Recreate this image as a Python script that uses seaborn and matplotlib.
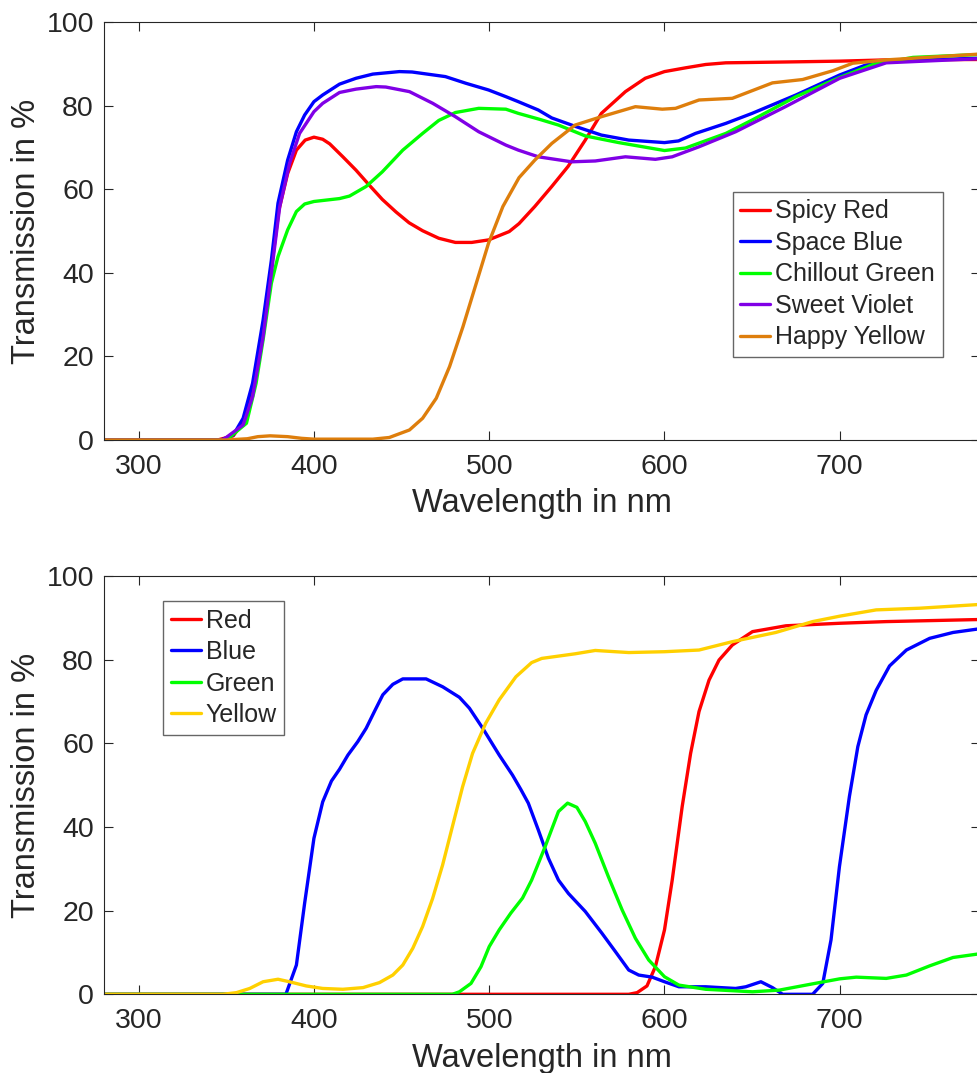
import numpy as np
import pandas as pd
import matplotlib
matplotlib.use("Agg")
import matplotlib.pyplot as plt
import seaborn as sns

# ---------------- data: top panel ----------------
spicy_red_x = [280, 345, 354, 360, 365, 371, 376, 380, 385, 390, 395, 400, 405, 409, 416.5, 424, 431.6, 439,
               446.8, 454.3, 462, 471.2, 480.7, 490, 499.6, 511.4, 517, 526, 535.7, 545, 554.8, 564, 577.7,
               589, 600, 612, 623.5, 635, 669, 700, 726.5, 780]
spicy_red_y = [0, 0, 1.0, 4.5, 12, 27, 42, 55, 63.8, 69.4, 71.8, 72.5, 72, 70.9, 67.8, 64.6, 61, 57.6,
               54.6, 52, 50.1, 48.3, 47.3, 47.3, 47.9, 49.9, 51.8, 55.9, 60.7, 65.5, 71.8, 78.2, 83.4,
               86.6, 88.2, 89.1, 89.9, 90.3, 90.5, 90.7, 91, 91.1]

space_blue_x = [280, 347, 354, 359.6, 365, 371, 375.7, 379.5, 385, 390, 394.7, 400, 405, 414.6, 424, 433.6,
                448.8, 456, 475, 486.7, 499.6, 509.5, 516.6, 528, 535.7, 549, 564, 579.6, 600, 608, 617.7,
                635, 650, 675, 700, 715, 732, 780]
space_blue_y = [0, 0, 1.2, 5.2, 13.6, 28.7, 43, 56.7, 67, 73.8, 77.8, 81, 82.6, 85.2, 86.6, 87.6,
                88.2, 88.1, 87, 85.4, 83.8, 82.2, 81, 79, 77.1, 75.1, 73, 71.8, 71.2, 71.6, 73.4,
                75.8, 78.2, 82.6, 87.4, 89.8, 90.8, 91.4]

chill_green_x = [280, 350, 361.5, 367, 371, 375.7, 379.5, 385, 390, 394.7, 400, 414.6, 420.3, 429.8, 439,
                 450.7, 462, 471.2, 480.7, 494, 509.5, 516.6, 528.5, 539.5, 554.8, 573.9, 600, 612, 635,
                 650, 675, 700, 719, 741.8, 780]
chill_green_y = [0, 0, 4, 13.6, 24, 37.5, 43.9, 50.3, 54.7, 56.5, 57.1, 57.8, 58.4, 60.7, 64.2,
                 69.4, 73.4, 76.5, 78.4, 79.4, 79.2, 78.2, 76.8, 75.4, 72.8, 71.2, 69.3, 69.9, 73.4,
                 76.6, 82.2, 86.8, 89.9, 91.6, 92.3]

sweet_violet_x = [280, 348, 359.6, 365, 371, 375.7, 380.5, 386.1, 391.8, 400, 405, 414.6, 424, 435.5, 441,
                  454.5, 467.8, 480.7, 494, 509.5, 516.6, 528, 547, 560.5, 577.7, 594.8, 604.4, 619.7,
                  640.6, 669, 700, 726.5, 780]
sweet_violet_y = [0, 0, 3.6, 10.4, 24.7, 39.9, 55.9, 66.2, 73.4, 78.6, 80.6, 83.2, 84, 84.6, 84.5,
                  83.4, 80.6, 77.4, 73.8, 70.6, 69.4, 67.8, 66.6, 66.8, 67.8, 67.2, 67.8, 70.2,
                  73.8, 79.8, 86.6, 90.3, 91.3]

happy_yellow_x = [280, 350, 362, 368, 375, 385, 393, 400, 433.6, 443, 454.5, 462, 469.8, 477.4, 485, 492.6,
                  499.6, 507.8, 517, 526, 535.7, 549, 564, 583.4, 598.7, 606.3, 619.7, 638.7, 661.6,
                  678.8, 696, 707.4, 726.5, 780]
happy_yellow_y = [0, 0, 0.3, 0.8, 1.0, 0.8, 0.4, 0.2, 0.2, 0.6, 2.4, 5.2, 10, 17.6, 27.1, 37.5,
                  47.1, 55.9, 62.8, 67, 71, 75.4, 77.4, 79.8, 79.2, 79.4, 81.4, 81.8, 85.5,
                  86.3, 88.4, 90.2, 91, 92.4]

# ---------------- data: bottom panel ----------------
red_x = [280, 579.6, 584.4, 590, 594.8, 600, 604.4, 610.1, 614.9, 619.7, 625.4, 631.1, 638.7, 650.2,
         669.3, 700, 726.5, 780]
red_y = [0, 0, 0.4, 2, 6.6, 15.4, 27.3, 44.9, 57.6, 67.6, 75.1, 79.9, 83.5, 86.7,
         88.1, 88.7, 89.1, 89.6]

blue_x = [280, 384, 390, 394.7, 400, 405, 410, 414.6, 419.4, 425, 429.8, 434.5, 439.3, 445, 450.7, 464,
          473.5, 483, 488.7, 496.3, 505.7, 513.3, 518, 522.3, 528, 533.8, 539.5, 545.2, 554.8, 564.3,
          572, 579.6, 585.3, 593, 600, 608.2, 623.5, 640.6, 646.4, 655, 661.6, 667.4, 684.5, 690.3,
          695, 699.8, 705.5, 710.3, 715, 720.8, 728.4, 738, 751.3, 764.6, 780]
blue_y = [0, 0, 7, 21.8, 37.3, 46, 51, 53.8, 57.2, 60.4, 63.6, 67.6, 71.6, 74.1, 75.4, 75.4,
          73.5, 71, 68.4, 63.6, 57.2, 52.4, 49, 45.7, 39.3, 32.5, 27.3, 24.1, 19.8, 14.6,
          10.2, 5.8, 4.6, 4.1, 3, 1.8, 1.8, 1.4, 1.8, 3, 1.6, 0, 0, 2.6,
          13, 30.5, 47.3, 59.2, 66.8, 72.7, 78.5, 82.3, 85.1, 86.5, 87.4]

green_x = [280, 479, 483, 489.6, 495.3, 500, 505.7, 512.3, 519, 524.2, 531.9, 539.5, 544.7, 550, 554.8,
           560.5, 568, 575.8, 583.4, 591, 600, 608.2, 623.5, 650.2, 665.5, 684.5, 700, 709.4, 726.5,
           738, 751.3, 764.6, 780]
green_y = [0, 0, 0.6, 2.6, 6.6, 11.4, 15.4, 19.4, 23, 27.3, 35.3, 43.7, 45.7, 44.7, 41.3,
           36.1, 28.1, 20.2, 13.4, 8.2, 4.2, 2.2, 1.2, 0.6, 1, 2.5, 3.7, 4.1, 3.8,
           4.6, 6.8, 8.8, 9.7]

yellow_x = [280, 348, 355.8, 363.4, 371, 379.5, 386, 395.6, 405, 416.5, 428, 437.4, 445, 450.7, 456.4, 462,
            467.7, 473.4, 479, 484.8, 490.5, 498, 505.7, 515.2, 524.2, 530, 549, 560.5, 579.6, 600,
            619.7, 638.7, 663.5, 684.5, 700, 720.8, 745.6, 780]
yellow_y = [0, 0, 0.4, 1.4, 3, 3.6, 3, 2, 1.4, 1.2, 1.6, 2.8, 4.6, 7, 11, 16.2,
            22.9, 30.9, 40.1, 49.6, 57.6, 64.8, 70.4, 75.9, 79.3, 80.3, 81.4, 82.2, 81.7, 81.9,
            82.3, 84.3, 86.5, 89.1, 90.4, 91.9, 92.3, 93.2]

top_names = ["Spicy Red", "Space Blue", "Chillout Green", "Sweet Violet", "Happy Yellow"]
top_colors = ["#FF0000", "#0000FF", "#00FF00", "#8000E6", "#DE7E0C"]
bottom_names = ["Red", "Blue", "Green", "Yellow"]
bottom_colors = ["#FF0000", "#0000FF", "#00FF00", "#FFD000"]

x_ticks = [300, 400, 500, 600, 700]
y_ticks = [0, 20, 40, 60, 80, 100]


def long_frame(names, xs, ys):
    parts = []
    for n, x, y in zip(names, xs, ys):
        parts.append(pd.DataFrame({"Wavelength": x, "Transmission": y, "Filter": n}))
    return pd.concat(parts, ignore_index=True)


df_top = long_frame(top_names,
                    [spicy_red_x, space_blue_x, chill_green_x, sweet_violet_x, happy_yellow_x],
                    [spicy_red_y, space_blue_y, chill_green_y, sweet_violet_y, happy_yellow_y])
df_bot = long_frame(bottom_names,
                    [red_x, blue_x, green_x, yellow_x],
                    [red_y, blue_y, green_y, yellow_y])

sns.set_style("ticks")
plt.rcParams["font.family"] = ["Liberation Sans", "DejaVu Sans"]
plt.rcParams["axes.edgecolor"] = "#262626"
plt.rcParams["axes.linewidth"] = 0.8

W, H = 977, 1073
fig = plt.figure(figsize=(W / 100, H / 100), dpi=100)
ax_left = 103.6 / W
ax_w = (980 - 103.6) / W
ax1 = fig.add_axes([ax_left, 1 - 440 / H, ax_w, (440 - 22.3) / H])
ax2 = fig.add_axes([ax_left, 1 - 994.3 / H, ax_w, (994.3 - 576) / H])

for ax, df, names, cols, leg_anchor in [
    (ax1, df_top, top_names, top_colors, (0.718, 0.594)),
    (ax2, df_bot, bottom_names, bottom_colors, (0.068, 0.940)),
]:
    sns.lineplot(data=df, x="Wavelength", y="Transmission", hue="Filter", hue_order=names,
                 palette=dict(zip(names, cols)), estimator=None, linewidth=2.4, ax=ax)
    ax.set_xlim(280, 780)
    ax.set_ylim(0, 100)
    ax.set_xticks(x_ticks)
    ax.set_yticks(y_ticks)
    ax.tick_params(direction="in", length=6.5, width=0.8, top=True, right=True,
                   labelsize=20.5, colors="#262626", pad=7)
    ax.tick_params(axis="x", pad=10)
    ax.set_xlabel("Wavelength in nm", fontsize=23.5, color="#262626", labelpad=6)
    ax.set_ylabel("Transmission in %", fontsize=23.5, color="#262626", labelpad=3)
    for s in ax.spines.values():
        s.set_visible(True)
    leg = ax.legend(loc="upper left", bbox_to_anchor=leg_anchor, borderaxespad=0,
                    fontsize=18, frameon=True, fancybox=False, framealpha=1,
                    edgecolor="#666666", handlelength=1.2, handletextpad=0.2,
                    labelspacing=0.3, borderpad=0.3, title=None)
    leg.get_frame().set_linewidth(1.0)
    for line in leg.get_lines():
        line.set_linewidth(2.4)

fig.savefig("out.png", dpi=100)
